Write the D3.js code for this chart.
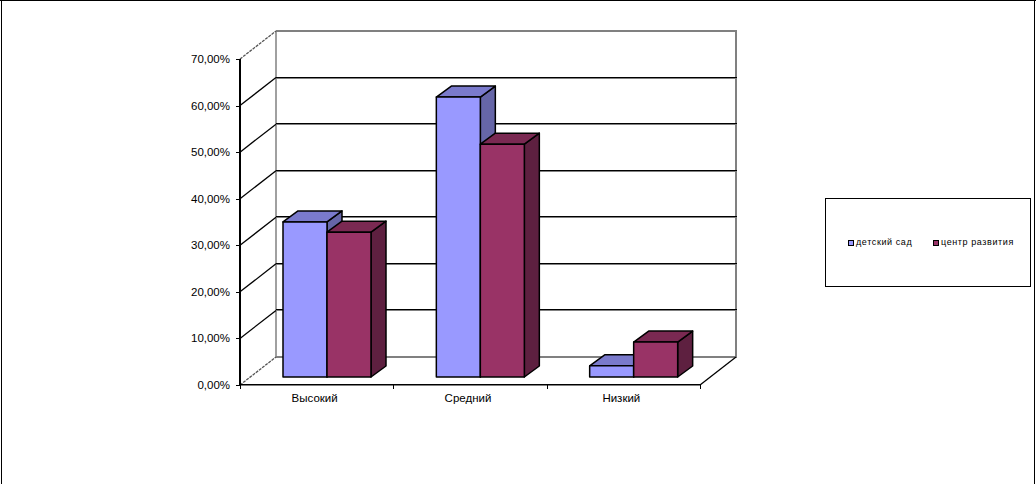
<!DOCTYPE html>
<html><head><meta charset="utf-8">
<script src="https://cdn.jsdelivr.net/npm/d3@7"></script>
<style>html,body{margin:0;padding:0;background:#fff}svg{display:block}text{font-family:"Liberation Sans",Arial,sans-serif;fill:#000}</style>
</head><body><svg id="c" width="1036" height="484"></svg>
<script>
const categories=["Высокий","Средний","Низкий"];
const seriesNames=["детский сад","центр развития"];
const kindergarten=[33.3,60.1,2.4];
const development=[31.1,50,7.5];
const yTicks=[0,10,20,30,40,50,60,70];
const fills=["#9999ff","#993366"];
const tops=["#7a7acc","#7a2952"];
const sides=["#6666a8","#5e2040"];

const svg=d3.select("#c");
const y=d3.scaleLinear().domain([0,70]).range([385,59]);
const x0=d3.scaleBand().domain(categories).range([240,700]);
const x1=d3.scaleBand().domain(seriesNames).range([33,121]);
const wall={dx:36,dy:-28}, barOff={dx:10,dy:-8}, depth={dx:15,dy:-11};
const line=(a,b,c,d,col,w=1)=>svg.append("path").attr("d",`M${a},${b}L${c},${d}`).attr("stroke",col).attr("stroke-width",w).attr("fill","none").attr("shape-rendering","crispEdges");
const diag=(a,b,c,d,col,w=1,dash)=>svg.append("path").attr("d",`M${a},${b}L${c},${d}`).attr("stroke",col).attr("stroke-width",w).attr("fill","none").attr("stroke-dasharray",dash||null);

// outer frame
line(1.5,0,1.5,484,"#000",1);
line(0,0.5,1036,0.5,"#000",1);
line(1034.5,0,1034.5,484,"#000",1);

const L=240,R=700;
// walls
line(L+wall.dx,y(70)+wall.dy,L+wall.dx,y(0)+wall.dy,"#a0a0a0",2);
line(R+wall.dx,y(70)+wall.dy,R+wall.dx,y(0)+wall.dy,"#808080",2);
yTicks.forEach(t=>{
  const yy=Math.round(y(t))+wall.dy;
  if(t==70||t==0) line(L+wall.dx,yy,R+wall.dx+1,yy,"#808080",2);
  else { line(L+wall.dx,yy-.5,R+wall.dx+1,yy-.5,"#000",1); line(L+wall.dx,yy+.5,R+wall.dx+1,yy+.5,"#808080",1); }
  diag(L,y(t),L+wall.dx,y(t)+wall.dy,(t==0||t==70)?"#555":"#000",1.3,(t==0||t==70)?"3,1":null);
  line(L-4,Math.round(y(t))+.5,L,Math.round(y(t))+.5,"#000");
  svg.append("text").attr("x",230).attr("y",y(t)+4).attr("text-anchor","end").attr("font-size",11.5)
     .text(d3.format(".2f")(t).replace(".",",")+"%");
});
// floor and axes
line(L,y(0)-.5,R,y(0)-.5,"#000",1);
line(L,y(0)+.5,R,y(0)+.5,"#808080",1);
diag(R,y(0),R+wall.dx,y(0)+wall.dy,"#000",1.3);
line(L,y(70),L,y(0),"#000",2);
[...categories.map(c=>x0(c)),R].forEach(t=>line(Math.round(t)+.5,y(0),Math.round(t)+.5,y(0)+4,"#000"));
categories.forEach(c=>svg.append("text").attr("x",x0(c)+x0.bandwidth()/2-2).attr("y",402).attr("text-anchor","middle").attr("font-size",11.5).text(c));

// bars
const zero=y(0)+barOff.dy;
const h=v=>y(0)-y(v);
const poly=(pts,f)=>svg.append("polygon").attr("points",pts.map(p=>p.join(",")).join(" ")).attr("fill",f).attr("stroke","#000").attr("stroke-width",1.5).attr("stroke-linejoin","round");
[kindergarten,development].forEach((vals,s)=>{
  vals.forEach((v,i)=>{
    const xl=x0(categories[i])+x1(seriesNames[s])+barOff.dx, w=x1.bandwidth(), t=zero-h(v), b=zero;
    poly([[xl+w,t],[xl+w+depth.dx,t+depth.dy],[xl+w+depth.dx,b+depth.dy],[xl+w,b]],sides[s]);
    poly([[xl,t],[xl+depth.dx,t+depth.dy],[xl+w+depth.dx,t+depth.dy],[xl+w,t]],tops[s]);
    poly([[xl,t],[xl+w,t],[xl+w,b],[xl,b]],fills[s]);
  });
});

// legend
svg.append("rect").attr("x",825.5).attr("y",198.5).attr("width",205).attr("height",88).attr("fill","#fff").attr("stroke","#000");
const legendX=[848,933];
seriesNames.forEach((n,i)=>{
  svg.append("rect").attr("x",legendX[i]+.5).attr("y",240.5).attr("width",5).attr("height",5).attr("fill",fills[i]).attr("stroke","#000");
  svg.append("text").attr("x",legendX[i]+8).attr("y",245).attr("font-size",9).attr("letter-spacing",0.6).text(n);
});
</script></body></html>
